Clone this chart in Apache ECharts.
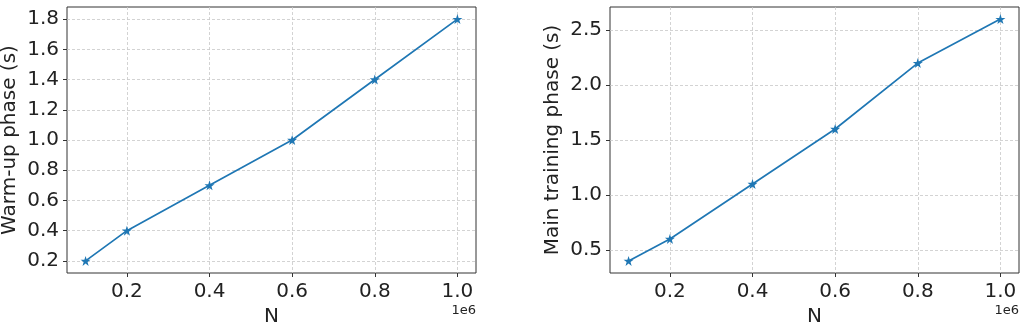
<!DOCTYPE html>
<html>
<head>
<meta charset="utf-8">
<script src="https://cdn.jsdelivr.net/npm/echarts@6/dist/echarts.min.js"></script>
<style>
  html, body { margin: 0; padding: 0; background: #fff; }
  #chart { width: 1025px; height: 326px; }
</style>
</head>
<body>
<div id="chart"></div>
<script type="text/javascript">
// data
var nValues = [100000, 200000, 400000, 600000, 800000, 1000000];
var warmupTimes = [0.2, 0.4, 0.7, 1.0, 1.4, 1.8];
var mainTimes = [0.4, 0.6, 1.1, 1.6, 2.2, 2.6];
var xTicks = [200000, 400000, 600000, 800000, 1000000];
var warmupTicks = [0.2, 0.4, 0.6, 0.8, 1.0, 1.2, 1.4, 1.6, 1.8];
var mainTicks = [0.5, 1.0, 1.5, 2.0, 2.5];

var font = 'DejaVu Sans';
var star = 'path://M50,0 L61.8,35.1 L98.1,35.1 L68.8,56.8 L79.4,91.9 L50,70.5 L20.6,91.9 L31.2,56.8 L1.9,35.1 L38.2,35.1 Z';

function pairs(xs, ys) {
	return xs.map(function (x, i) { return [x, ys[i]]; });
}

function xAxis(idx) {
	return {
		type: 'value', gridIndex: idx,
		min: 55000, max: 1045000,
		name: 'N', nameLocation: 'middle', nameGap: 33,
		nameTextStyle: { fontFamily: font, fontSize: 20, color: '#222' },
		axisLine: { show: false },
		axisTick: { show: true, length: 4, customValues: xTicks, lineStyle: { color: '#333' } },
		axisLabel: {
			customValues: xTicks, margin: 9,
			fontFamily: font, fontSize: 20, color: '#222',
			formatter: function (v) { return (v / 1e6).toFixed(1); }
		},
		splitLine: { show: true, lineStyle: { color: '#c8c8c8', type: [3, 2], width: 0.8 } }
	};
}

function yAxis(idx, lo, hi, ticks, title) {
	return {
		type: 'value', gridIndex: idx,
		min: lo, max: hi,
		name: title, nameLocation: 'middle', nameGap: 47,
		nameTextStyle: { fontFamily: font, fontSize: 20, color: '#222' },
		axisLine: { show: false },
		axisTick: { show: true, length: 4, customValues: ticks, lineStyle: { color: '#333' } },
		axisLabel: {
			customValues: ticks, margin: 8,
			fontFamily: font, fontSize: 20, color: '#222',
			formatter: function (v) { return v.toFixed(1); }
		},
		splitLine: { show: true, lineStyle: { color: '#c8c8c8', type: [3, 2], width: 0.8 } }
	};
}

function series(idx, ys) {
	return {
		type: 'line', xAxisIndex: idx, yAxisIndex: idx,
		data: pairs(nValues, ys),
		symbol: star, symbolSize: 10, showSymbol: true,
		lineStyle: { color: '#1f77b4', width: 1.7 },
		itemStyle: { color: '#1f77b4' },
		animation: false
	};
}

var myChart = echarts.init(document.getElementById('chart'));
var option = {
	backgroundColor: '#fff',
	grid: [
		{ left: 67, right: 549, top: 7, bottom: 53, outerBoundsMode: 'none', containLabel: false,
		  show: true, borderColor: '#333', borderWidth: 1 },
		{ left: 610, right: 6, top: 7, bottom: 53, outerBoundsMode: 'none', containLabel: false,
		  show: true, borderColor: '#333', borderWidth: 1 }
	],
	xAxis: [xAxis(0), xAxis(1)],
	yAxis: [
		yAxis(0, 0.12, 1.88, warmupTicks, 'Warm-up phase (s)'),
		yAxis(1, 0.29, 2.71, mainTicks, 'Main training phase (s)')
	],
	series: [series(0, warmupTimes), series(1, mainTimes)],
	graphic: [
		{ type: 'text', right: 549, top: 304, style: { text: '1e6', fontFamily: font, fontSize: 13, fill: '#222' } },
		{ type: 'text', right: 6, top: 304, style: { text: '1e6', fontFamily: font, fontSize: 13, fill: '#222' } }
	]
};
myChart.setOption(option);
</script>
</body>
</html>
